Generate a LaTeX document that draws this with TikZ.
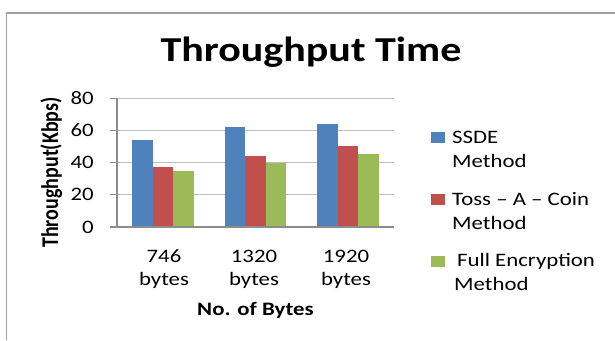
\documentclass[tikz,border=0pt]{standalone}
\usepackage{fontspec}
\setmainfont{Carlito}[FakeStretch=1.2]
\newfontfamily\rotfont{Carlito}[FakeStretch=0.833]
\usepackage{tikz}

\definecolor{ssde}{HTML}{4F81BD}
\definecolor{toss}{HTML}{C0504D}
\definecolor{fullenc}{HTML}{9BBB59}
\definecolor{framegray}{HTML}{A0A0A0}
\definecolor{gridgray}{HTML}{BFBFBF}
\definecolor{axisgray}{HTML}{8C8C8C}

\tikzset{
  titletext/.style={anchor=base,inner sep=0pt,font=\fontsize{35}{40}\selectfont\bfseries},
  axistitle/.style={anchor=base,inner sep=0pt,font=\fontsize{19}{23}\selectfont\bfseries},
  ticklabel/.style={anchor=east,inner sep=0pt,font=\fontsize{19}{23}\selectfont},
  catlabel/.style={anchor=base,align=center,inner sep=0pt,font=\fontsize{19}{23}\selectfont},
  legtext/.style={anchor=base west,align=left,inner sep=0pt,font=\fontsize{19}{24}\selectfont},
}

\begin{document}
\begin{tikzpicture}[x=1pt,y=-1pt]
    \useasboundingbox (0,0) rectangle (615,340);
    \draw[framegray,line width=1.5pt] (6.5,340) |- (615,13);

    \node[titletext] (title) at (311,61) {Throughput Time};

    % plot area, values going up from the zero line
    \begin{scope}[shift={(0,227)},y=1.6125pt]
      \foreach \v in {20,40,60,80} {
        \draw[gridgray,line width=1pt] (117,\v) -- (394,\v);
        \draw[axisgray,line width=1pt] (110,\v) -- (117,\v);
      }
      \foreach \v in {0,20,40,60,80}
        \node[ticklabel] (y\v) at (94,\v) {\v};

      \fill[ssde]    (132.4,0) rectangle (152.9,54); % 746 bytes
      \fill[toss]    (152.9,0) rectangle (173.4,37);
      \fill[fullenc] (173.4,0) rectangle (193.9,35);

      \fill[ssde]    (224.8,0) rectangle (245.3,62); % 1320 bytes
      \fill[toss]    (245.3,0) rectangle (265.8,44);
      \fill[fullenc] (265.8,0) rectangle (286.3,40);

      \fill[ssde]    (317.1,0) rectangle (337.6,64); % 1920 bytes
      \fill[toss]    (337.6,0) rectangle (358.1,50);
      \fill[fullenc] (358.1,0) rectangle (378.6,45);

      \draw[axisgray,line width=1.2pt] (117,80) -- (117,0);
      \draw[axisgray,line width=1.2pt] (110,0) -- (394,0);
    \end{scope}

    % base anchor of a two-line node sits on its last line
    \node[catlabel] (c746)  at (164,285)   {746\\bytes};
    \node[catlabel] (c1320) at (254,285)   {1320\\bytes};
    \node[catlabel] (c1920) at (346,285)   {1920\\bytes};
    \node[axistitle] (xtitle) at (255.5,315) {No. of Bytes};
    \node[anchor=base,inner sep=0pt,rotate=90,font=\fontsize{24}{28}\selectfont\rotfont\bfseries]
      (ytitle) at (58,172.5) {Throughput(Kbps)};

    % legend
    \fill[ssde]    (431,132) rectangle (445,143);
    \fill[toss]    (431,194) rectangle (445,205);
    \fill[fullenc] (431,256) rectangle (445,267);
    \node[legtext] (lssde) at (452,167) {SSDE\\Method};
    \node[legtext] (ltoss) at (452,229) {Toss – A – Coin\\Method};
    \node[legtext] (lfull) at (454,290) {\hspace*{3pt}Full Encryption\\Method};
  \end{tikzpicture}
\end{document}
